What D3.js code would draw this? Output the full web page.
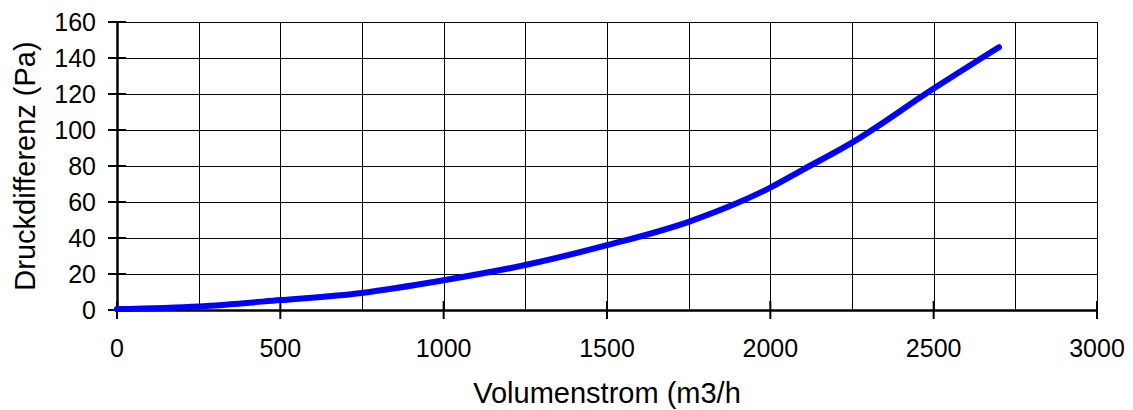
<!DOCTYPE html>
<meta charset="utf-8">
<script src="https://d3js.org/d3.v7.min.js"></script>
<style>
    body { margin: 0; background: #fff; }
    text { font-family: "Liberation Sans", Arial, sans-serif; fill: #000; }
    .tick-label { font-size: 25px; }
    .axis-title { font-size: 29px; }
</style>
<div id="chart"></div>
<script>
    // values
    const flow = [0, 250, 500, 750, 1000, 1250, 1500, 1750, 1880, 2000, 2100, 2250, 2500, 2700];
    const pressure = [0.5, 2, 5.5, 9.5, 16.5, 25, 36, 49, 58, 68, 78, 93, 123, 146];
    const xTicks = [0, 500, 1000, 1500, 2000, 2500, 3000];
    const xGrid = [250, 500, 750, 1000, 1250, 1500, 1750, 2000, 2250, 2500, 2750, 3000];
    const yTicks = [0, 20, 40, 60, 80, 100, 120, 140, 160];

    const W = 1133, H = 410;
    const margin = {top: 22, right: 36, bottom: 100, left: 117};
    const width = W - margin.left - margin.right,
          height = H - margin.top - margin.bottom;

    const svg = d3.select("#chart").append("svg")
        .attr("width", W).attr("height", H);
    const g = svg.append("g")
        .attr("transform", `translate(${margin.left},${margin.top})`);

    const x = d3.scaleLinear().domain([0, 3000]).range([0, width]);
    const y = d3.scaleLinear().domain([0, 160]).range([height, 0]);

    // grid
    g.selectAll(".vgrid").data(xGrid).join("line")
        .attr("x1", d => Math.round(x(d)) + 0.5).attr("x2", d => Math.round(x(d)) + 0.5)
        .attr("y1", 0).attr("y2", height)
        .attr("stroke", "#000").attr("stroke-width", 1);
    g.selectAll(".hgrid").data(yTicks.slice(1)).join("line")
        .attr("x1", 0).attr("x2", width)
        .attr("y1", d => Math.round(y(d)) + 0.5).attr("y2", d => Math.round(y(d)) + 0.5)
        .attr("stroke", "#000").attr("stroke-width", 1);

    // axes (ticks cross the axis line)
    const xAxis = g.append("g").attr("transform", `translate(0,${height})`)
        .call(d3.axisBottom(x).tickValues(xTicks).tickSize(0).tickFormat(""));
    xAxis.select(".domain").attr("stroke-width", 2.5);
    g.selectAll(".xt").data(xTicks).join("line")
        .attr("x1", d => x(d)).attr("x2", d => x(d))
        .attr("y1", height - 9).attr("y2", height + 9)
        .attr("stroke", "#000").attr("stroke-width", 2);
    g.selectAll(".xl").data(xTicks).join("text")
        .attr("class", "tick-label")
        .attr("x", d => x(d)).attr("y", height + 47)
        .attr("text-anchor", "middle")
        .text(d => d);

    const yAxis = g.append("g")
        .call(d3.axisLeft(y).tickValues(yTicks).tickSize(0).tickFormat(""));
    yAxis.select(".domain").attr("stroke-width", 2.5);
    g.selectAll(".yt").data(yTicks).join("line")
        .attr("x1", -9).attr("x2", 9)
        .attr("y1", d => y(d)).attr("y2", d => y(d))
        .attr("stroke", "#000").attr("stroke-width", 2);
    g.selectAll(".yl").data(yTicks).join("text")
        .attr("class", "tick-label")
        .attr("x", -21).attr("y", d => y(d))
        .attr("dy", "0.35em")
        .attr("text-anchor", "end")
        .text(d => d);

    // the curve
    g.append("path")
        .datum(flow.map((f, i) => [f, pressure[i]]))
        .attr("fill", "none")
        .attr("stroke", "#0000ff")
        .attr("stroke-width", 6)
        .attr("stroke-linecap", "round")
        .attr("stroke-linejoin", "round")
        .attr("d", d3.line().x(d => x(d[0])).y(d => y(d[1])).curve(d3.curveMonotoneX));

    // titles
    svg.append("text").attr("class", "axis-title")
        .attr("x", margin.left + width / 2).attr("y", 403)
        .attr("text-anchor", "middle")
        .text("Volumenstrom (m3/h");
    svg.append("text").attr("class", "axis-title")
        .attr("transform", `translate(35,${margin.top + height / 2}) rotate(-90)`)
        .attr("text-anchor", "middle")
        .text("Druckdifferenz (Pa)");
</script>
